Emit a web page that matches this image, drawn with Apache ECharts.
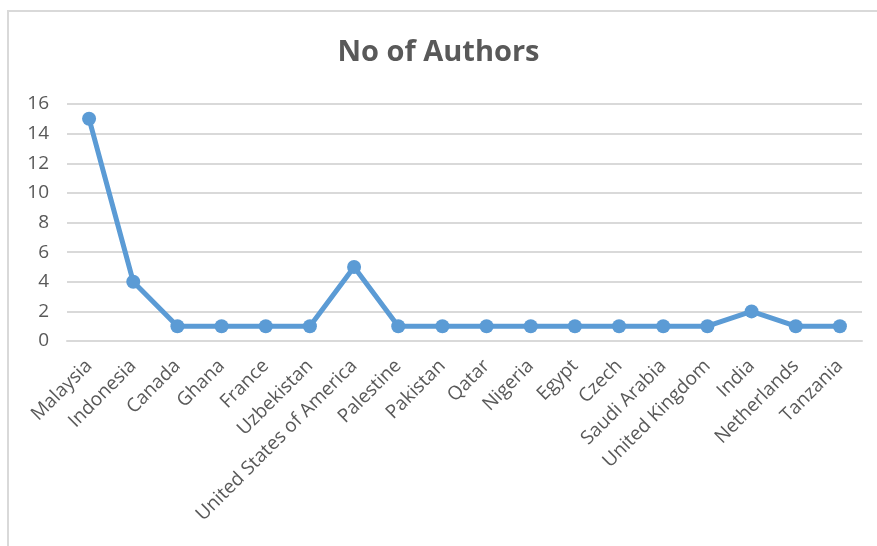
<!DOCTYPE html>
<html><head><meta charset="utf-8">
<script src="https://cdn.jsdelivr.net/npm/echarts@6/dist/echarts.min.js"></script>
<style>html,body{margin:0;padding:0;background:#fff}#c{width:877px;height:546px}</style>
</head><body><div id="c"></div>
<script>
const categories = ["Malaysia","Indonesia","Canada","Ghana","France","Uzbekistan","United States of America","Palestine","Pakistan","Qatar","Nigeria","Egypt","Czech","Saudi Arabia","United Kingdom","India","Netherlands","Tanzania"];
const authors = [15,4,1,1,1,1,5,1,1,1,1,1,1,1,1,2,1,1];
const chart = echarts.init(document.getElementById('c'));
chart.setOption({
  animation:false,
  backgroundColor:'#fff',
  graphic:[{type:'rect',shape:{x:8,y:11,width:900,height:600},style:{fill:'none',stroke:'#d9d9d9',lineWidth:2},silent:true}],
  title:{text:'No of Authors',left:'center',top:33,textStyle:{fontFamily:'Open Sans',fontWeight:'bold',fontSize:29,color:'#595959'}},
  grid:{left:67,right:15,top:104,bottom:205,containLabel:false},
  xAxis:{type:'category',data:categories,boundaryGap:true,
    axisLine:{lineStyle:{color:'#d9d9d9',width:2}},axisTick:{show:false},
    axisLabel:{rotate:45,interval:0,fontFamily:'Open Sans',fontSize:19,color:'#595959',margin:22}},
  yAxis:{type:'value',min:0,max:16,interval:2,
    axisLine:{show:false},axisTick:{show:false},
    splitLine:{lineStyle:{color:'#d9d9d9',width:2}},
    axisLabel:{fontFamily:'Open Sans',fontSize:19,color:'#595959',margin:18}},
  series:[{type:'line',data:authors,symbol:'circle',symbolSize:14,
    lineStyle:{color:'#5b9bd5',width:5},itemStyle:{color:'#5b9bd5'}}]
});
</script></body></html>
